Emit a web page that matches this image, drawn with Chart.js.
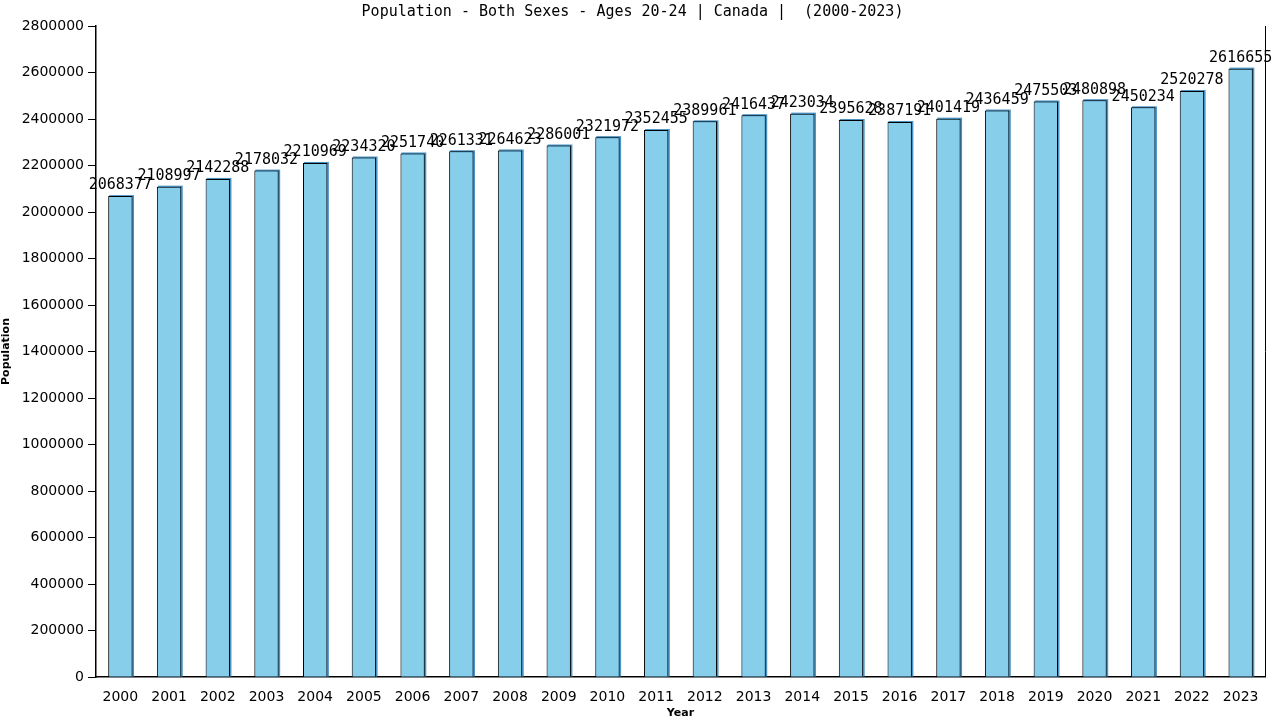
<!DOCTYPE html>
<html>
<head>
<meta charset="utf-8">
<script src="https://cdn.jsdelivr.net/npm/chart.js@4"></script>
<style>
  html, body { margin: 0; padding: 0; background: #fff; }
  #wrap { width: 1280px; height: 720px; }
</style>
</head>
<body>
<div id="wrap"><canvas id="popChart" width="1280" height="720"></canvas></div>
<script>
const years = ["2000", "2001", "2002", "2003", "2004", "2005", "2006", "2007", "2008", "2009", "2010", "2011",
  "2012", "2013", "2014", "2015", "2016", "2017", "2018", "2019", "2020", "2021", "2022", "2023"];
const population = [2068377, 2108997, 2142288, 2178032, 2210969, 2234320, 2251740, 2261331, 2264623, 2286001,
  2321972, 2352455, 2389961, 2416437, 2423034, 2395628, 2387191, 2401419, 2436459, 2475503, 2480898, 2450234,
  2520278, 2616655];
const yTicks = [0, 200000, 400000, 600000, 800000, 1000000, 1200000, 1400000, 1600000, 1800000, 2000000,
  2200000, 2400000, 2600000, 2800000];

// bar shadow + value labels + right border
const barExtras = {
  id: "barExtras",
  beforeDatasetDraw(chart) {
    const ctx = chart.ctx;
    const meta = chart.getDatasetMeta(0);
    ctx.save();
    ctx.fillStyle = "#4a92c2";
    meta.data.forEach(function (bar) {
      const w = bar.width;
      ctx.fillRect(bar.x - w / 2 + 1, bar.y - 1, w + 0.5, bar.base - bar.y + 1);
    });
    ctx.restore();
  },
  afterDraw(chart) {
    const ctx = chart.ctx;
    const area = chart.chartArea;
    ctx.save();
    ctx.strokeStyle = "#000";
    ctx.lineWidth = 1;
    ctx.beginPath();
    ctx.moveTo(Math.round(area.right) + 0.5, area.top);
    ctx.lineTo(Math.round(area.right) + 0.5, area.bottom);
    ctx.stroke();

    ctx.fillStyle = "#000";
    ctx.font = "15px 'DejaVu Sans Mono'";
    ctx.textAlign = "center";
    ctx.textBaseline = "bottom";
    const meta = chart.getDatasetMeta(0);
    meta.data.forEach(function (bar, i) {
      ctx.fillText(String(population[i]), bar.x, bar.y - 3);
    });
    ctx.restore();
  }
};

const ctx = document.getElementById("popChart").getContext("2d");
const popChart = new Chart(ctx, {
  type: "bar",
  data: {
    labels: years,
    datasets: [
      {
        label: "Population",
        data: population,
        backgroundColor: "#87ceeb",
        borderColor: "#000",
        borderWidth: 1,
        borderSkipped: "bottom",
        barPercentage: 0.5,
        categoryPercentage: 1.0
      }
    ]
  },
  options: {
    responsive: false,
    animation: false,
    layout: { padding: { left: 0, right: 15, top: 0, bottom: 0 } },
    plugins: {
      legend: { display: false },
      tooltip: { enabled: false },
      title: {
        display: true,
        text: "Population - Both Sexes - Ages 20-24 | Canada |  (2000-2023)",
        color: "#000",
        font: { family: "'DejaVu Sans Mono'", size: 15, weight: "normal" },
        padding: { top: 3, bottom: 5 }
      }
    },
    scales: {
      x: {
        offset: true,
        grid: { display: false },
        border: { display: true, color: "#000", width: 1.5 },
        ticks: {
          color: "#000",
          font: { family: "'DejaVu Sans'", size: 14 },
          maxRotation: 0,
          autoSkip: false,
          padding: 4
        },
        title: {
          display: true,
          text: "Year",
          color: "#000",
          font: { family: "'DejaVu Sans'", size: 11, weight: "bold" },
          padding: { top: 2, bottom: 0 }
        },
        afterFit(scale) { scale.height = 43; }
      },
      y: {
        min: 0,
        max: 2800000,
        afterBuildTicks(scale) {
          scale.ticks = yTicks.map(function (v) { return { value: v }; });
        },
        grid: {
          display: true,
          drawOnChartArea: false,
          drawTicks: true,
          tickLength: 8,
          color: "#000"
        },
        border: { display: true, color: "#000", width: 1.5 },
        ticks: {
          color: "#000",
          font: { family: "'DejaVu Sans'", size: 14 },
          padding: 4,
          callback: function (v) { return String(v); }
        },
        title: {
          display: true,
          text: "Population",
          color: "#000",
          font: { family: "'DejaVu Sans'", size: 11, weight: "bold" },
          padding: { top: 0, bottom: 2 }
        },
        afterFit(scale) { scale.width = 96; }
      }
    }
  },
  plugins: [barExtras]
});
</script>
</body>
</html>
